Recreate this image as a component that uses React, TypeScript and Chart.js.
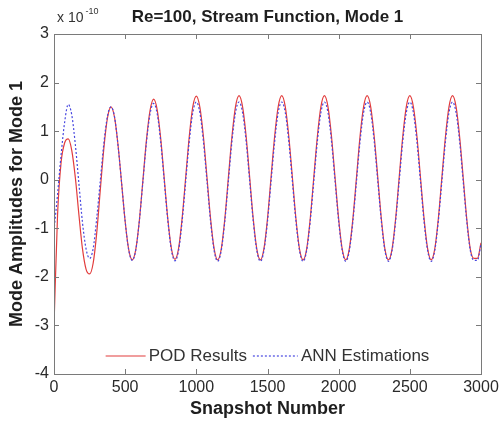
import React, { useEffect, useRef } from "react";
import { Chart, registerables } from "chart.js";

Chart.register(...registerables);

// ---- data ----
const snapshots = [
  0, 25, 50, 75, 100, 125, 150, 175, 200, 225, 250, 275,
  300, 325, 350, 375, 400, 425, 450, 475, 500, 525, 550, 575,
  600, 625, 650, 675, 700, 725, 750, 775, 800, 825, 850, 875,
  900, 925, 950, 975, 1000, 1025, 1050, 1075, 1100, 1125, 1150, 1175,
  1200, 1225, 1250, 1275, 1300, 1325, 1350, 1375, 1400, 1425, 1450, 1475,
  1500, 1525, 1550, 1575, 1600, 1625, 1650, 1675, 1700, 1725, 1750, 1775,
  1800, 1825, 1850, 1875, 1900, 1925, 1950, 1975, 2000, 2025, 2050, 2075,
  2100, 2125, 2150, 2175, 2200, 2225, 2250, 2275, 2300, 2325, 2350, 2375,
  2400, 2425, 2450, 2475, 2500, 2525, 2550, 2575, 2600, 2625, 2650, 2675,
  2700, 2725, 2750, 2775, 2800, 2825, 2850, 2875, 2900, 2925, 2950, 2975,
  3000,
];

const podResults = [
  -3.0, -0.72, 0.36, 0.76, 0.84, 0.6, 0.04, -0.72, -1.42, -1.84, -1.94, -1.72,
  -1.1, -0.22, 0.64, 1.26, 1.5, 1.29, 0.71, -0.07, -0.86, -1.44, -1.65, -1.43,
  -0.83, 0.0, 0.83, 1.43, 1.66, 1.44, 0.84, 0.01, -0.82, -1.42, -1.64, -1.42,
  -0.8, 0.04, 0.88, 1.5, 1.72, 1.49, 0.88, 0.04, -0.8, -1.42, -1.65, -1.43,
  -0.81, 0.04, 0.88, 1.5, 1.73, 1.5, 0.89, 0.04, -0.81, -1.43, -1.65, -1.42,
  -0.8, 0.05, 0.89, 1.5, 1.73, 1.5, 0.88, 0.04, -0.81, -1.43, -1.65, -1.43,
  -0.81, 0.04, 0.88, 1.5, 1.73, 1.5, 0.88, 0.03, -0.81, -1.43, -1.65, -1.42,
  -0.8, 0.04, 0.89, 1.5, 1.73, 1.5, 0.88, 0.04, -0.81, -1.43, -1.65, -1.43,
  -0.81, 0.04, 0.88, 1.5, 1.73, 1.5, 0.89, 0.04, -0.8, -1.42, -1.65, -1.43,
  -0.81, 0.04, 0.88, 1.5, 1.73, 1.5, 0.88, 0.04, -0.81, -1.43, -1.62, -1.62,
  -1.3,
];

const annEstimations = [
  -1.05, -0.3, 0.52, 1.19, 1.55, 1.33, 0.72, -0.08, -0.88, -1.42, -1.62, -1.42,
  -0.8, -0.03, 0.74, 1.3, 1.5, 1.3, 0.7, -0.07, -0.86, -1.45, -1.66, -1.44,
  -0.84, -0.03, 0.78, 1.36, 1.57, 1.36, 0.77, -0.04, -0.85, -1.45, -1.67, -1.46,
  -0.86, -0.04, 0.78, 1.38, 1.6, 1.38, 0.78, -0.04, -0.86, -1.46, -1.68, -1.46,
  -0.86, -0.04, 0.78, 1.38, 1.6, 1.38, 0.78, -0.04, -0.86, -1.46, -1.68, -1.46,
  -0.86, -0.04, 0.78, 1.38, 1.6, 1.38, 0.78, -0.04, -0.86, -1.46, -1.68, -1.46,
  -0.86, -0.04, 0.78, 1.38, 1.6, 1.38, 0.78, -0.04, -0.86, -1.46, -1.68, -1.46,
  -0.86, -0.04, 0.78, 1.38, 1.6, 1.38, 0.78, -0.04, -0.86, -1.46, -1.68, -1.46,
  -0.86, -0.04, 0.78, 1.38, 1.6, 1.38, 0.78, -0.04, -0.86, -1.46, -1.68, -1.46,
  -0.86, -0.04, 0.78, 1.38, 1.6, 1.38, 0.78, -0.04, -0.86, -1.46, -1.66, -1.66,
  -1.32,
];

const seriesNames = ["POD Results", "ANN Estimations"];
const xTickValues = [0, 500, 1000, 1500, 2000, 2500, 3000];
const yTickValues = [-4, -3, -2, -1, 0, 1, 2, 3];
const titleText = "Re=100, Stream Function, Mode 1";
const xTitle = "Snapshot Number";
const yTitle = "Mode Amplitudes for Mode 1";
const exponentBase = "x 10";
const exponentPower = "-10";

const RED = "#e23c3c";
const BLUE = "#4646e0";
const AXIS = "#7a7a7a";
const TEXT = "#1e1e1e";
const FONT = "'Liberation Sans', Arial, Helvetica, sans-serif";

const decorPlugin = {
  id: "decor",
  afterDraw(chart: any) {
    const { ctx, chartArea } = chart;
    const { left, right, top, bottom } = chartArea;
    const xs = chart.scales.x;
    const ys = chart.scales.y;
    ctx.save();

    // box
    ctx.strokeStyle = AXIS;
    ctx.lineWidth = 1;
    ctx.strokeRect(Math.round(left) + 0.5, Math.round(top) + 0.5, Math.round(right - left), Math.round(bottom - top));

    // inward ticks
    const tl = 5;
    ctx.beginPath();
    xTickValues.forEach((v) => {
      const px = Math.round(xs.getPixelForValue(v)) + 0.5;
      ctx.moveTo(px, bottom);
      ctx.lineTo(px, bottom - tl);
      ctx.moveTo(px, top);
      ctx.lineTo(px, top + tl);
    });
    yTickValues.forEach((v) => {
      const py = Math.round(ys.getPixelForValue(v)) + 0.5;
      ctx.moveTo(left, py);
      ctx.lineTo(left + tl, py);
      ctx.moveTo(right, py);
      ctx.lineTo(right - tl, py);
    });
    ctx.stroke();

    const cx = (left + right) / 2;
    const cy = (top + bottom) / 2;

    // title
    ctx.fillStyle = TEXT;
    ctx.textAlign = "center";
    ctx.textBaseline = "middle";
    ctx.font = `bold 17px ${FONT}`;
    ctx.fillText(titleText, cx, 17);

    // x title
    ctx.font = `bold 18px ${FONT}`;
    ctx.fillText(xTitle, cx, 409);

    // y title
    ctx.save();
    ctx.translate(17, cy);
    ctx.rotate(-Math.PI / 2);
    ctx.fillText(yTitle, 0, 0);
    ctx.restore();

    // exponent
    ctx.textAlign = "left";
    ctx.font = `14px ${FONT}`;
    ctx.fillStyle = "#333";
    ctx.fillText(exponentBase, left + 3, 18);
    const wBase = ctx.measureText(exponentBase).width;
    ctx.font = `9px ${FONT}`;
    ctx.fillText(exponentPower, left + 3 + wBase + 2, 12);

    // legend
    ctx.font = `17px ${FONT}`;
    const gapText = 3;
    const lineLen1 = 40;
    const lineLen2 = 45;
    const gapItems = 6;
    const w1 = ctx.measureText(seriesNames[0]).width;
    const w2 = ctx.measureText(seriesNames[1]).width;
    const total = lineLen1 + gapText + w1 + gapItems + lineLen2 + gapText + w2;
    let lx = cx - total / 2;
    const ly = bottom - 18;
    ctx.strokeStyle = RED;
    ctx.lineWidth = 1.2;
    ctx.setLineDash([]);
    ctx.beginPath();
    ctx.moveTo(lx, ly);
    ctx.lineTo(lx + lineLen1, ly);
    ctx.stroke();
    lx += lineLen1 + gapText;
    ctx.fillStyle = "#333";
    ctx.fillText(seriesNames[0], lx, ly);
    lx += w1 + gapItems;
    ctx.strokeStyle = BLUE;
    ctx.setLineDash([2, 2]);
    ctx.beginPath();
    ctx.moveTo(lx, ly);
    ctx.lineTo(lx + lineLen2, ly);
    ctx.stroke();
    ctx.setLineDash([]);
    lx += lineLen2 + gapText;
    ctx.fillText(seriesNames[1], lx, ly);

    ctx.restore();
  },
};

export default function App() {
  const canvasRef = useRef<HTMLCanvasElement | null>(null);

  useEffect(() => {
    const canvas = canvasRef.current;
    if (!canvas) return;
    const chart = new Chart(canvas, {
      type: "line",
      data: {
        datasets: [
          {
            label: seriesNames[0],
            data: snapshots.map((x, i) => ({ x, y: podResults[i] })),
            borderColor: RED,
            borderWidth: 1.2,
            pointRadius: 0,
            cubicInterpolationMode: "monotone",
            fill: false,
            order: 2,
          },
          {
            label: seriesNames[1],
            data: snapshots.map((x, i) => ({ x, y: annEstimations[i] })),
            borderColor: BLUE,
            borderWidth: 1.2,
            borderDash: [2, 2],
            pointRadius: 0,
            cubicInterpolationMode: "monotone",
            fill: false,
            order: 1,
          },
        ],
      },
      options: {
        animation: false,
        responsive: false,
        maintainAspectRatio: false,
        devicePixelRatio: 1,
        layout: { padding: { left: 0, right: 22, top: 34, bottom: 0 } },
        plugins: {
          legend: { display: false },
          title: { display: false },
          tooltip: { enabled: false },
        },
        scales: {
          x: {
            type: "linear",
            min: 0,
            max: 3000,
            afterBuildTicks: (scale: any) => {
              scale.ticks = xTickValues.map((v) => ({ value: v }));
            },
            afterFit: (scale: any) => {
              scale.height = 50;
            },
            grid: { display: false, drawTicks: false },
            border: { display: false },
            ticks: {
              autoSkip: false,
              maxRotation: 0,
              padding: 4,
              color: "#2a2a2a",
              font: { family: FONT, size: 16 },
              callback: (v: any) => String(v),
            },
          },
          y: {
            type: "linear",
            min: -4,
            max: 3,
            afterBuildTicks: (scale: any) => {
              scale.ticks = yTickValues.map((v) => ({ value: v }));
            },
            afterFit: (scale: any) => {
              scale.width = 54;
            },
            grid: { display: false, drawTicks: false },
            border: { display: false },
            ticks: {
              padding: 5,
              color: "#2a2a2a",
              font: { family: FONT, size: 16 },
              callback: (v: any) => String(v),
            },
          },
        },
      },
      plugins: [decorPlugin],
    });
    return () => chart.destroy();
  }, []);

  return (
    <div style={{ position: "fixed", left: 0, top: 0, width: 503, height: 424, background: "#fff" }}>
      <canvas ref={canvasRef} width={503} height={424} style={{ display: "block" }} />
    </div>
  );
}
